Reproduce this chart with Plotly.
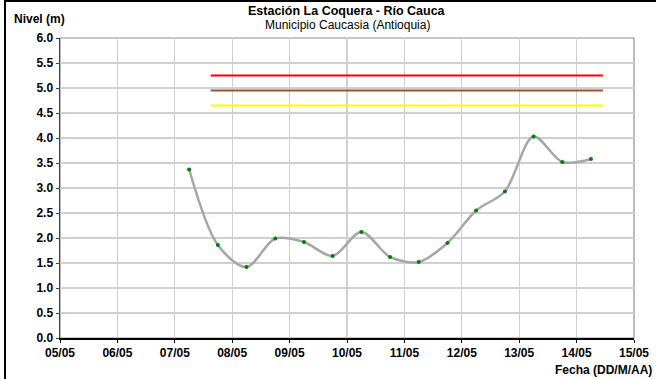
import plotly.graph_objects as go

# Data
fechas = ["2021-05-07 06:00", "2021-05-07 18:00", "2021-05-08 06:00", "2021-05-08 18:00",
          "2021-05-09 06:00", "2021-05-09 18:00", "2021-05-10 06:00", "2021-05-10 18:00",
          "2021-05-11 06:00", "2021-05-11 18:00", "2021-05-12 06:00", "2021-05-12 18:00",
          "2021-05-13 06:00", "2021-05-13 18:00", "2021-05-14 06:00"]
nivel = [3.37, 1.86, 1.42, 1.99, 1.92, 1.64, 2.12, 1.62, 1.52, 1.90, 2.55, 2.93, 4.03, 3.52, 3.58]

umbral_fechas = ["2021-05-07 15:00", "2021-05-14 11:00"]
umbral_rojo = [5.25, 5.25]
umbral_cafe = [4.95, 4.95]
umbral_amarillo = [4.65, 4.65]

x_range = ["2021-05-05", "2021-05-15"]
titulo = "Estación La Coquera - Río Cauca"
subtitulo = "Municipio Caucasia (Antioquia)"

FONT = "Liberation Sans, Arial, sans-serif"
L, R, T, B = 60, 22, 38, 41
W, H = 656, 379
PW, PH = W - L - R, H - T - B

def px(x):
    return (x - L) / PW

def py(y):
    return (H - B - y) / PH

fig = go.Figure()
for vals, col in [(umbral_rojo, "#FF0000"), (umbral_cafe, "#A0522D"), (umbral_amarillo, "#FFFF00")]:
    fig.add_trace(go.Scatter(x=umbral_fechas, y=vals, mode="lines",
                             line=dict(color=col, width=2), showlegend=False, hoverinfo="skip"))

fig.add_trace(go.Scatter(x=fechas, y=nivel, mode="lines",
                         line=dict(color="#A6A6A6", width=2.5, shape="spline", smoothing=0.9),
                         showlegend=False))
fig.add_trace(go.Scatter(x=fechas, y=nivel, mode="markers",
                         marker=dict(color="#008000", size=4), showlegend=False))

fig.update_layout(
    width=W, height=H, autosize=False,
    margin=dict(l=L, r=R, t=T, b=B, pad=0),
    paper_bgcolor="white", plot_bgcolor="white",
    font=dict(family=FONT, size=12, color="black"),
    xaxis=dict(type="date", range=x_range, dtick=86400000, tick0="2021-05-05",
               tickformat="%d/%m", showgrid=True, gridcolor="#D0D0D0", gridwidth=1.2,
               showline=True, linecolor="black", linewidth=1.5,
               ticks="outside", ticklen=3, tickcolor="black", automargin=False,
               tickfont=dict(family=FONT, size=12, color="black", weight="bold"),
               zeroline=False, fixedrange=True),
    yaxis=dict(range=[0, 6], dtick=0.5, tickformat=".1f", showgrid=True,
               gridcolor="#D0D0D0", gridwidth=1.2, automargin=False,
               showline=True, linecolor="#404040", linewidth=1.5,
               ticks="outside", ticklen=3, tickcolor="#404040",
               tickfont=dict(family=FONT, size=12, color="black", weight="bold"),
               zeroline=False, fixedrange=True),
    shapes=[
        dict(type="rect", xref="paper", yref="paper", x0=0, x1=1, y0=0, y1=1,
             line=dict(color="#909090", width=1.2), layer="below"),
        dict(type="rect", xref="paper", yref="paper", x0=px(5), x1=px(662), y0=py(385), y1=py(1),
             line=dict(color="black", width=2)),
    ],
    annotations=[
        dict(text="<b>" + titulo + "</b>", xref="paper", yref="paper", x=0.5, y=py(11),
             xanchor="center", yanchor="middle", showarrow=False, font=dict(size=12.5)),
        dict(text=subtitulo, xref="paper", yref="paper", x=0.5, y=py(25.5),
             xanchor="center", yanchor="middle", showarrow=False, font=dict(size=12)),
        dict(text="<b>Nivel (m)</b>", xref="paper", yref="paper", x=px(12), y=py(19),
             xanchor="left", yanchor="middle", showarrow=False, font=dict(size=12)),
        dict(text="<b>Fecha (DD/M/AA)</b>", xref="paper", yref="paper", x=px(654), y=py(370),
             xanchor="right", yanchor="middle", showarrow=False, font=dict(size=12)),
    ],
)

fig.write_html("out.html", config={"displayModeBar": False, "staticPlot": True},
               post_script="document.body.style.margin='0';document.body.style.overflow='hidden';")
